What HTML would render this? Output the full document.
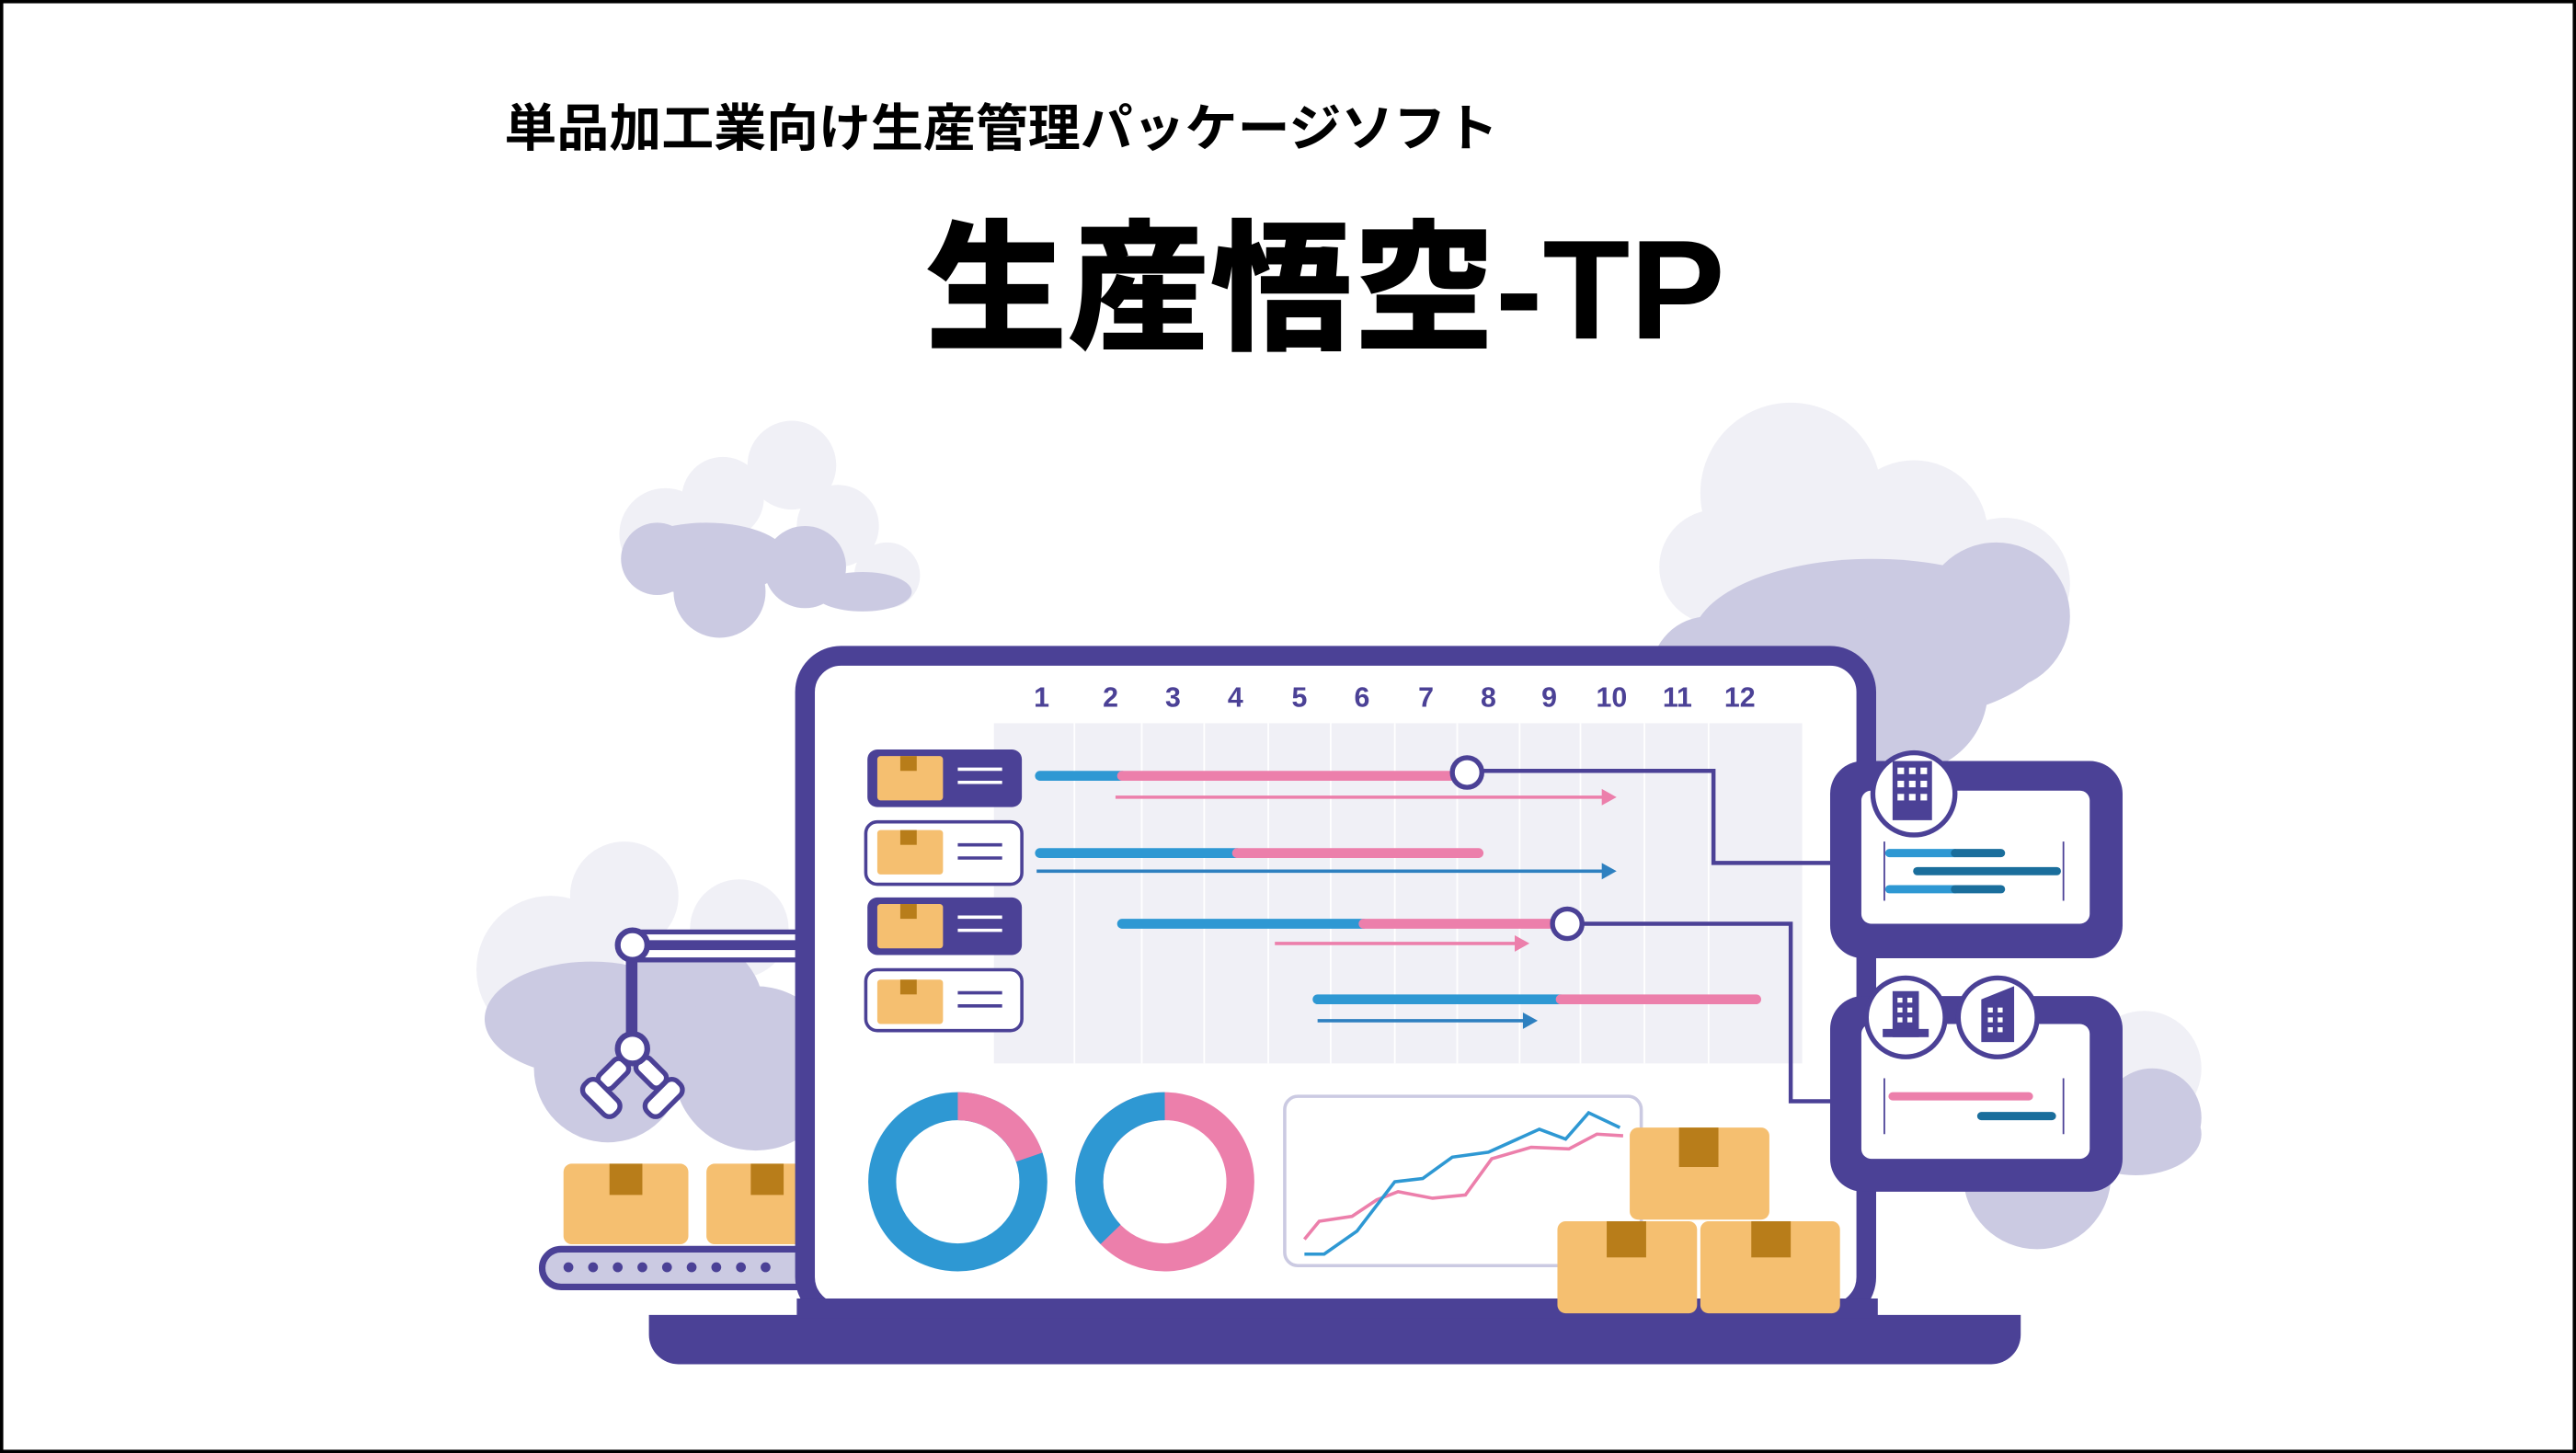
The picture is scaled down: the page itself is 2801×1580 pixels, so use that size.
<!DOCTYPE html>
<html><head><meta charset="utf-8"><style>
html,body{margin:0;padding:0;background:#fff}
svg{display:block}
text{font-family:"Liberation Sans","Noto Sans CJK JP",sans-serif}
</style></head><body>
<svg width="2801" height="1580" viewBox="0 0 1568 884" preserveAspectRatio="none" xmlns="http://www.w3.org/2000/svg">
<rect x="1" y="1" width="1566" height="882" fill="#fff" stroke="#000" stroke-width="2"/>
<text x="307" y="89" font-size="31" font-weight="bold" fill="#000" font-family="Noto Sans CJK JP,sans-serif" textLength="605" lengthAdjust="spacingAndGlyphs">単品加工業向け生産管理パッケージソフト</text>
<text x="563" y="206" font-size="86" font-weight="900" fill="#000" font-family="Noto Sans CJK JP,sans-serif" textLength="487" lengthAdjust="spacingAndGlyphs">生産悟空-TP</text>

<!-- clouds -->
<g fill="#f0f0f6">
<circle cx="482" cy="283" r="27"/><circle cx="440" cy="303" r="25"/><circle cx="405" cy="325" r="28"/><circle cx="510" cy="320" r="25"/><circle cx="540" cy="350" r="20"/>
<circle cx="1090" cy="300" r="55"/><circle cx="1165" cy="325" r="45"/><circle cx="1045" cy="345" r="35"/><circle cx="1220" cy="355" r="40"/>
<circle cx="380" cy="545" r="33"/><circle cx="335" cy="590" r="45"/><circle cx="450" cy="565" r="30"/>
<circle cx="1305" cy="650" r="35"/>
</g>
<g fill="#cbcae2">
<ellipse cx="430" cy="340" rx="50" ry="22"/><circle cx="438" cy="360" r="28"/><circle cx="490" cy="345" r="25"/><ellipse cx="525" cy="360" rx="30" ry="12"/><circle cx="400" cy="340" r="22"/>
<ellipse cx="1140" cy="390" rx="110" ry="50"/><circle cx="1215" cy="375" r="45"/><circle cx="1160" cy="420" r="50"/><circle cx="1040" cy="410" r="35"/>
<circle cx="420" cy="615" r="45"/><ellipse cx="360" cy="620" rx="65" ry="35"/><circle cx="370" cy="650" r="45"/><circle cx="460" cy="650" r="50"/>
<circle cx="1240" cy="715" r="45"/><circle cx="1310" cy="680" r="30"/><ellipse cx="1300" cy="690" rx="40" ry="25"/>
</g>

<!-- conveyor -->
<rect x="330" y="760" width="170" height="23" rx="11.5" fill="#cbcae2" stroke="#4b4196" stroke-width="4"/>
<g fill="#4b4196"><circle cx="346" cy="771" r="3"/><circle cx="361" cy="771" r="3"/><circle cx="376" cy="771" r="3"/><circle cx="391" cy="771" r="3"/><circle cx="406" cy="771" r="3"/><circle cx="421" cy="771" r="3"/><circle cx="436" cy="771" r="3"/><circle cx="451" cy="771" r="3"/><circle cx="466" cy="771" r="3"/></g>
<rect x="343" y="708" width="76" height="49" rx="5" fill="#f5bf70"/><rect x="371" y="708" width="20" height="19" fill="#b87d1a"/>
<rect x="430" y="708" width="60" height="49" rx="5" fill="#f5bf70"/><rect x="457" y="708" width="20" height="19" fill="#b87d1a"/>
<!-- crane -->
<rect x="385" y="567" width="105" height="17" fill="#fff" stroke="#4b4196" stroke-width="3"/>
<rect x="385" y="572" width="105" height="6" fill="#4b4196"/>
<rect x="381" y="575" width="7" height="65" fill="#4b4196"/>
<circle cx="385" cy="575" r="9" fill="#fff" stroke="#4b4196" stroke-width="3.5"/>
<g fill="#fff" stroke="#4b4196" stroke-width="3">
<rect x="368" y="643" width="11" height="20" rx="4" transform="rotate(45 373 653)"/>
<rect x="391" y="643" width="11" height="20" rx="4" transform="rotate(-45 396 653)"/>
<rect x="360" y="655" width="12" height="26" rx="5" transform="rotate(-45 366 668)"/>
<rect x="398" y="655" width="12" height="26" rx="5" transform="rotate(45 404 668)"/>
</g>
<circle cx="385" cy="638" r="9" fill="#fff" stroke="#4b4196" stroke-width="3.5"/>

<!-- laptop -->
<rect x="490" y="399" width="646" height="400" rx="22" fill="#fff" stroke="#4b4196" stroke-width="12"/>
<path d="M395 800 H1230 V812 a18 18 0 0 1 -18 18 H413 a18 18 0 0 1 -18 -18 Z" fill="#4b4196"/>
<rect x="485" y="790" width="658" height="12" fill="#4b4196"/>

<!-- gantt -->
<rect x="605" y="440" width="492" height="207" fill="#f0f0f6"/>
<g stroke="#fff" stroke-width="1">
<line x1="654" y1="440" x2="654" y2="647"/><line x1="695" y1="440" x2="695" y2="647"/><line x1="733" y1="440" x2="733" y2="647"/><line x1="772" y1="440" x2="772" y2="647"/><line x1="810" y1="440" x2="810" y2="647"/><line x1="849" y1="440" x2="849" y2="647"/><line x1="887" y1="440" x2="887" y2="647"/><line x1="925" y1="440" x2="925" y2="647"/><line x1="962" y1="440" x2="962" y2="647"/><line x1="1001" y1="440" x2="1001" y2="647"/><line x1="1040" y1="440" x2="1040" y2="647"/>
</g>
<g font-size="17" font-weight="bold" fill="#4b4196" text-anchor="middle">
<text x="634" y="430">1</text><text x="676" y="430">2</text><text x="714" y="430">3</text><text x="752" y="430">4</text><text x="791" y="430">5</text><text x="829" y="430">6</text><text x="868" y="430">7</text><text x="906" y="430">8</text><text x="943" y="430">9</text><text x="981" y="430">10</text><text x="1021" y="430">11</text><text x="1059" y="430">12</text>
</g>
<!-- row cards -->
<g>
<rect x="528" y="456" width="94" height="35" rx="6" fill="#4b4196"/>
<rect x="527" y="500" width="95" height="38" rx="7" fill="#fff" stroke="#4b4196" stroke-width="2"/>
<rect x="528" y="546" width="94" height="35" rx="6" fill="#4b4196"/>
<rect x="527" y="590" width="95" height="37" rx="7" fill="#fff" stroke="#4b4196" stroke-width="2"/>
<g fill="#f5bf70"><rect x="534" y="460" width="40" height="27" rx="2"/><rect x="534" y="505" width="40" height="27" rx="2"/><rect x="534" y="550" width="40" height="27" rx="2"/><rect x="534" y="596" width="40" height="27" rx="2"/></g>
<g fill="#b87d1a"><rect x="548" y="460" width="10" height="9"/><rect x="548" y="505" width="10" height="9"/><rect x="548" y="550" width="10" height="9"/><rect x="548" y="596" width="10" height="9"/></g>
<g stroke="#fff" stroke-width="2"><line x1="583" y1="468" x2="610" y2="468"/><line x1="583" y1="476" x2="610" y2="476"/><line x1="583" y1="558" x2="610" y2="558"/><line x1="583" y1="566" x2="610" y2="566"/></g>
<g stroke="#4b4196" stroke-width="2"><line x1="583" y1="514" x2="610" y2="514"/><line x1="583" y1="522" x2="610" y2="522"/><line x1="583" y1="604" x2="610" y2="604"/><line x1="583" y1="612" x2="610" y2="612"/></g>
</g>
<!-- bars -->
<g stroke-width="6" stroke-linecap="round">
<line x1="633" y1="472" x2="683" y2="472" stroke="#2e98d3"/><line x1="683" y1="472" x2="888" y2="472" stroke="#ec7fab"/>
<line x1="633" y1="519" x2="753" y2="519" stroke="#2e98d3"/><line x1="753" y1="519" x2="900" y2="519" stroke="#ec7fab"/>
<line x1="683" y1="562" x2="830" y2="562" stroke="#2e98d3"/><line x1="830" y1="562" x2="948" y2="562" stroke="#ec7fab"/>
<line x1="802" y1="608" x2="950" y2="608" stroke="#2e98d3"/><line x1="950" y1="608" x2="1069" y2="608" stroke="#ec7fab"/>
</g>
<g stroke-width="2">
<line x1="679" y1="485" x2="977" y2="485" stroke="#ec7fab"/><path d="M975 480 L984 485 L975 490 Z" fill="#ec7fab"/>
<line x1="631" y1="530" x2="977" y2="530" stroke="#2e80c0"/><path d="M975 525 L984 530 L975 535 Z" fill="#2e80c0"/>
<line x1="776" y1="574" x2="924" y2="574" stroke="#ec7fab"/><path d="M922 569 L931 574 L922 579 Z" fill="#ec7fab"/>
<line x1="802" y1="621" x2="929" y2="621" stroke="#2e80c0"/><path d="M927 616 L936 621 L927 626 Z" fill="#2e80c0"/>
</g>
<path d="M902 469 H1043 V525 H1118" fill="none" stroke="#4b4196" stroke-width="2.5"/>
<path d="M963 562 H1090 V670 H1118" fill="none" stroke="#4b4196" stroke-width="2.5"/>
<circle cx="893" cy="470" r="9" fill="#fff" stroke="#4b4196" stroke-width="3"/>
<circle cx="954" cy="562" r="9" fill="#fff" stroke="#4b4196" stroke-width="3"/>

<!-- right panels -->
<rect x="1114" y="463" width="178" height="120" rx="20" fill="#4b4196"/>
<rect x="1133" y="481" width="139" height="81" rx="6" fill="#fff"/>
<line x1="1147" y1="512" x2="1147" y2="548" stroke="#4b4196"/><line x1="1256" y1="512" x2="1256" y2="548" stroke="#4b4196"/>
<g stroke-width="5" stroke-linecap="round">
<line x1="1150" y1="519" x2="1190" y2="519" stroke="#2e98d3"/><line x1="1190" y1="519" x2="1218" y2="519" stroke="#1a6e9c"/>
<line x1="1167" y1="530" x2="1252" y2="530" stroke="#1a6e9c"/>
<line x1="1150" y1="541" x2="1190" y2="541" stroke="#2e98d3"/><line x1="1190" y1="541" x2="1218" y2="541" stroke="#1a6e9c"/>
</g>
<circle cx="1165" cy="483" r="25" fill="#fff" stroke="#4b4196" stroke-width="3"/>
<rect x="1152" y="463" width="24" height="36" fill="#4b4196"/>
<g fill="#fff"><rect x="1155" y="467" width="4" height="4"/><rect x="1162" y="467" width="4" height="4"/><rect x="1169" y="467" width="4" height="4"/><rect x="1155" y="475" width="4" height="4"/><rect x="1162" y="475" width="4" height="4"/><rect x="1169" y="475" width="4" height="4"/><rect x="1155" y="483" width="4" height="4"/><rect x="1162" y="483" width="4" height="4"/><rect x="1169" y="483" width="4" height="4"/></g>

<rect x="1114" y="606" width="178" height="119" rx="20" fill="#4b4196"/>
<rect x="1133" y="623" width="139" height="82" rx="6" fill="#fff"/>
<line x1="1147" y1="656" x2="1147" y2="690" stroke="#4b4196"/><line x1="1256" y1="656" x2="1256" y2="690" stroke="#4b4196"/>
<g stroke-width="5" stroke-linecap="round">
<line x1="1152" y1="667" x2="1235" y2="667" stroke="#ec7fab"/>
<line x1="1206" y1="679" x2="1249" y2="679" stroke="#1a6e9c"/>
</g>
<circle cx="1160" cy="619" r="24" fill="#fff" stroke="#4b4196" stroke-width="3"/>
<circle cx="1216" cy="619" r="24" fill="#fff" stroke="#4b4196" stroke-width="3"/>
<rect x="1152" y="603" width="16" height="28" fill="#4b4196"/><rect x="1146" y="626" width="28" height="5" fill="#4b4196"/>
<path d="M1206 608 L1226 600 V634 H1206 Z" fill="#4b4196"/>
<g fill="#fff"><rect x="1155" y="607" width="3" height="3"/><rect x="1161" y="607" width="3" height="3"/><rect x="1155" y="613" width="3" height="3"/><rect x="1161" y="613" width="3" height="3"/><rect x="1155" y="619" width="3" height="3"/><rect x="1161" y="619" width="3" height="3"/>
<rect x="1210" y="613" width="3" height="3"/><rect x="1216" y="613" width="3" height="3"/><rect x="1210" y="619" width="3" height="3"/><rect x="1216" y="619" width="3" height="3"/><rect x="1210" y="625" width="3" height="3"/><rect x="1216" y="625" width="3" height="3"/></g>

<!-- donuts -->
<circle cx="583" cy="719" r="46" fill="none" stroke="#2e98d3" stroke-width="17"/>
<path d="M583 673 A46 46 0 0 1 626.5 704" fill="none" stroke="#ec7fab" stroke-width="17"/>
<circle cx="709" cy="719" r="46" fill="none" stroke="#ec7fab" stroke-width="17"/>
<path d="M709 673 A46 46 0 0 0 676 751" fill="none" stroke="#2e98d3" stroke-width="17"/>

<!-- line chart -->
<rect x="782" y="667" width="217" height="103" rx="8" fill="#fff" stroke="#cbcae2" stroke-width="2"/>
<polyline points="794,754 803,743 823,740 838,730 851,725 872,729 892,727 908,705 932,698 955,699 972,690 988,691" fill="none" stroke="#ec7fab" stroke-width="2"/>
<polyline points="794,763 806,763 826,749 849,719 866,717 884,704 906,701 937,687 953,693 967,677 986,686" fill="none" stroke="#2e98d3" stroke-width="2"/>

<!-- stacked boxes -->
<rect x="992" y="686" width="85" height="56" rx="5" fill="#f5bf70"/><rect x="1022" y="686" width="24" height="24" fill="#b87d1a"/>
<rect x="948" y="743" width="85" height="56" rx="5" fill="#f5bf70"/><rect x="978" y="743" width="24" height="22" fill="#b87d1a"/>
<rect x="1035" y="743" width="85" height="56" rx="5" fill="#f5bf70"/><rect x="1066" y="743" width="24" height="22" fill="#b87d1a"/>
</svg>
</body></html>
